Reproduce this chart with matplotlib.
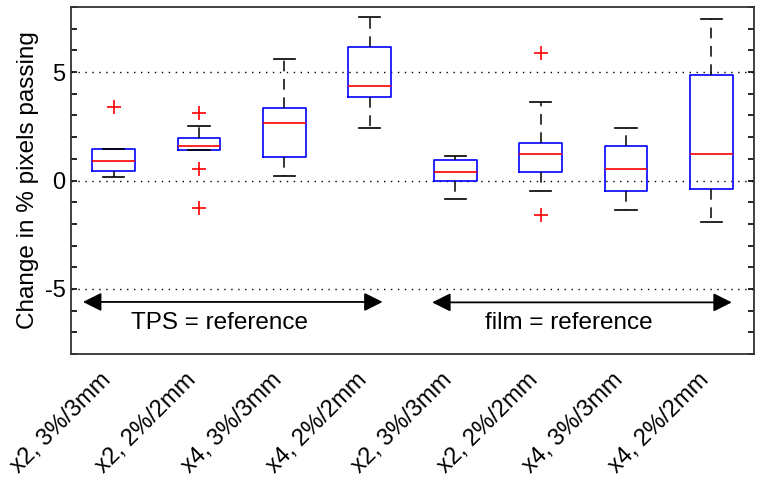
import matplotlib
matplotlib.use("Agg")
import matplotlib.pyplot as plt
import matplotlib.transforms as mtransforms
from matplotlib.ticker import MultipleLocator

plt.rcParams['font.family'] = ['Liberation Sans', 'DejaVu Sans']

# box statistics
labels = ["x2, 3%/3mm", "x2, 2%/2mm", "x4, 3%/3mm", "x4, 2%/2mm",
          "x2, 3%/3mm", "x2, 2%/2mm", "x4, 3%/3mm", "x4, 2%/2mm"]
whislo = [0.17, 1.41, 0.23, 2.40, -0.84, -0.47, -1.38, -1.90]
q1 = [0.46, 1.41, 1.08, 3.87, -0.01, 0.40, -0.49, -0.38]
med = [0.89, 1.61, 2.63, 4.35, 0.41, 1.24, 0.54, 1.24]
q3 = [1.43, 1.98, 3.33, 6.15, 0.94, 1.72, 1.61, 4.88]
whishi = [1.43, 2.50, 5.61, 7.53, 1.14, 3.64, 2.40, 7.45]
outliers = [[3.38], [3.09, 0.52, -1.29], [], [], [], [5.87, -1.61], [], []]

stats = []
for i in range(len(labels)):
    stats.append(dict(label=labels[i], whislo=whislo[i], q1=q1[i], med=med[i],
                      q3=q3[i], whishi=whishi[i], fliers=outliers[i]))

fig = plt.figure(figsize=(7.62, 4.82), dpi=100)
ax = fig.add_axes([71 / 762, 1 - 354 / 482, 683 / 762, 347 / 482])

ax.bxp(stats, positions=range(1, 9), widths=0.5, showfliers=True,
       boxprops=dict(color='blue', linewidth=1.2),
       medianprops=dict(color='red', linewidth=1.2),
       whiskerprops=dict(color='black', linestyle=(0, (7, 5)), linewidth=1.1),
       capprops=dict(color='black', linewidth=1.2),
       flierprops=dict(marker='+', markeredgecolor='red', markersize=10,
                       markeredgewidth=1.2, linestyle='none'),
       capwidths=0.25)

ax.set_xlim(0.5, 8.5)
ax.set_ylim(-8, 8)
ax.set_yticks([-5, 0, 5])
ax.set_yticklabels(['-5', '0', '5'], fontsize=17)
ax.yaxis.set_minor_locator(MultipleLocator(1))
ax.tick_params(axis='y', which='both', direction='in', length=4, right=True,
               width=1.2, pad=4)
ax.tick_params(axis='x', length=0)
ax.set_xticks(range(1, 9))
ax.set_xticklabels(labels, rotation=45, ha='right', va='top',
                   rotation_mode='anchor', fontsize=17)
shift = mtransforms.ScaledTranslation(-0.14, 0, fig.dpi_scale_trans)
for t in ax.get_xticklabels():
    t.set_y(-0.03)
    t.set_transform(t.get_transform() + shift)

for v in [-5, 0, 5]:
    ax.axhline(v, color='black', linestyle=(0, (1, 4)), linewidth=1.0, zorder=0)

for s in ax.spines.values():
    s.set_linewidth(1.3)
    s.set_color('#333333')

ax.set_ylabel("Change in % pixels passing", fontsize=17.5, labelpad=4)

# group arrows and texts
arrow = dict(arrowstyle='<|-|>', color='black', lw=1.3, mutation_scale=28,
             shrinkA=0, shrinkB=0)
ax.annotate('', xy=(0.64, -5.6), xytext=(4.15, -5.6), arrowprops=arrow)
ax.annotate('', xy=(4.73, -5.62), xytext=(8.24, -5.62), arrowprops=arrow)
ax.text(2.24, -6.55, "TPS = reference", ha='center', va='center', fontsize=17.5)
ax.text(6.33, -6.55, "film = reference", ha='center', va='center', fontsize=17.5)

plt.savefig("out.png", dpi=100)
